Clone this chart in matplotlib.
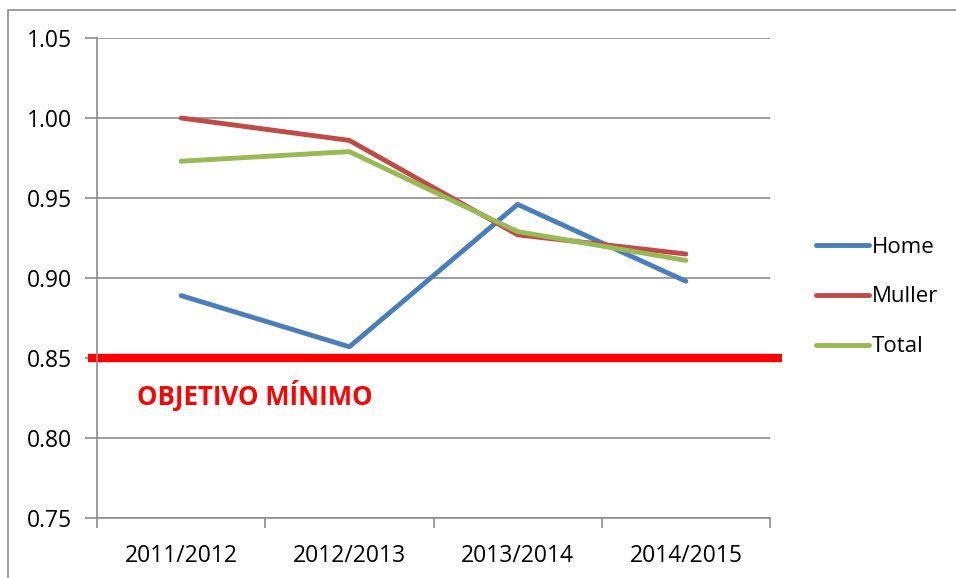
import matplotlib
matplotlib.use("Agg")
import matplotlib.pyplot as plt
from matplotlib.patches import Rectangle

categories = ["2011/2012", "2012/2013", "2013/2014", "2014/2015"]
home = [0.889, 0.857, 0.946, 0.898]
muller = [1.000, 0.986, 0.927, 0.915]
total = [0.973, 0.979, 0.929, 0.911]
objetivo = 0.85
yticks = [0.75, 0.80, 0.85, 0.90, 0.95, 1.00, 1.05]

plt.rcParams['font.family'] = ['Open Sans', 'DejaVu Sans']

W, H = 956, 578
fig = plt.figure(figsize=(W / 100, H / 100), dpi=100)
ax = fig.add_axes([97 / W, 1 - 518 / H, (770 - 97) / W, (518 - 38) / H])

# outer frame
fig.patches.append(Rectangle((8 / W, -0.01), 1.0, 1 - 10 / H + 0.01, transform=fig.transFigure,
                             fill=False, edgecolor="#8c8c8c", linewidth=1.2))

x = list(range(len(categories)))
ax.set_xlim(-0.5, len(categories) - 0.5)
ax.set_ylim(0.75, 1.05)

ax.set_yticks(yticks)
ax.set_yticklabels([f"{v:.2f}" for v in yticks], fontsize=16.5)
ax.yaxis.grid(True, color="#8c8c8c", linewidth=1.2)
ax.set_axisbelow(True)

ax.set_xticks(x)
ax.set_xticklabels(categories, fontsize=16.5)
ax.set_xticks([i - 0.5 for i in range(len(categories) + 1)], minor=True)
ax.tick_params(axis="x", which="major", length=0, pad=19)
ax.tick_params(axis="x", which="minor", length=7, color="#8c8c8c", width=1.2)
ax.tick_params(axis="y", length=9, color="#8c8c8c", width=1.2, pad=9)

for s in ["top", "right"]:
    ax.spines[s].set_visible(False)
for s in ["left", "bottom"]:
    ax.spines[s].set_color("#8c8c8c")
    ax.spines[s].set_linewidth(1.2)

l1, = ax.plot(x, home, color="#4a7ebb", linewidth=3.5, label="Home", solid_capstyle="round")
l2, = ax.plot(x, muller, color="#be4b48", linewidth=3.5, label="Muller", solid_capstyle="round")
l3, = ax.plot(x, total, color="#98b954", linewidth=3.5, label="Total", solid_capstyle="round")

ax.plot([-0.013, 1.018], [objetivo, objetivo], color="#ff0000", linewidth=6,
        transform=ax.get_yaxis_transform(), clip_on=False, solid_capstyle="butt")
ax.text(0.06, 0.8265, "OBJETIVO MÍNIMO", color="#ff0000", fontsize=18.5, fontweight="bold",
        va="center", ha="left", transform=ax.get_yaxis_transform())

leg = fig.legend(handles=[l1, l2, l3], loc="center left",
                 bbox_to_anchor=(796 / W, 1 - 297 / H), frameon=False, fontsize=16,
                 handlelength=2.4, handletextpad=0.1, labelspacing=1.3)

fig.savefig("out.png", dpi=100)
